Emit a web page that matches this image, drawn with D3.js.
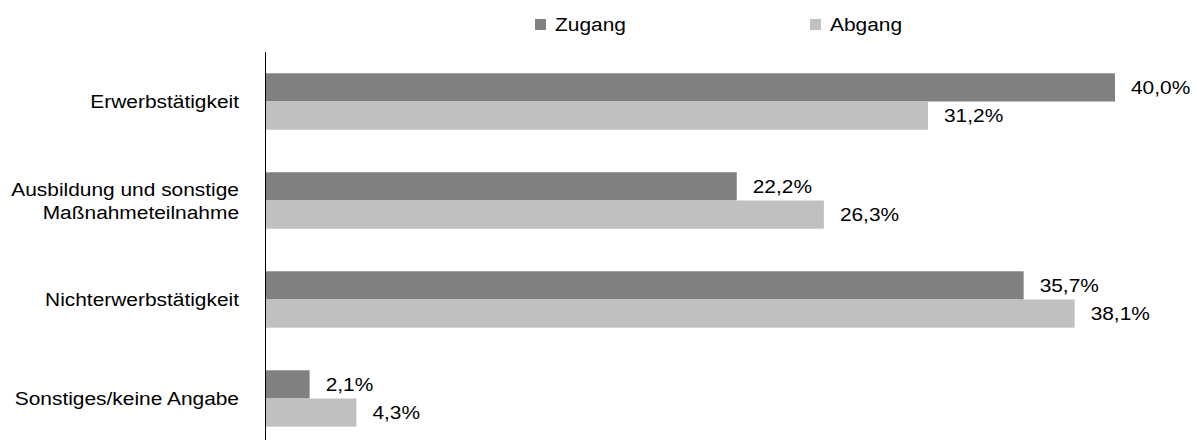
<!DOCTYPE html>
<html lang="de">
<head>
<meta charset="utf-8">
<title>Zugang und Abgang</title>
<script src="https://d3js.org/d3.v7.min.js"></script>
<style>
  body { margin: 0; background: #fff; }
  svg { display: block; }
  text { font-family: "Liberation Sans", Arial, sans-serif; font-size: 19px; fill: #000; }
</style>
</head>
<body>
<svg width="1197" height="440"></svg>
<script>
// categories and series
const categories = [
  ["Erwerbstätigkeit"],
  ["Ausbildung und sonstige", "Maßnahmeteilnahme"],
  ["Nichterwerbstätigkeit"],
  ["Sonstiges/keine Angabe"]
];
const seriesNames = ["Zugang", "Abgang"];
const zugang = [40.0, 22.2, 35.7, 2.1];
const abgang = [31.2, 26.3, 38.1, 4.3];
const colors = ["#808080", "#c0c0c0"];

const svg = d3.select("svg");
const fmt = v => d3.format(".1f")(v).replace(".", ",") + "%";
const stretch = 1.1; // the original text is a bit wider than Arial
const place = (px, py) => "translate(" + px + "," + py + ") scale(" + stretch + ",1)";

const x = d3.scaleLinear().domain([0, 40]).range([265, 1115]);
const y = d3.scaleBand().domain(d3.range(categories.length)).range([52, 448]).paddingInner(0.43).paddingOuter(0.215);
const sub = d3.scaleBand().domain(seriesNames).range([0, y.bandwidth()]);

const rows = categories.map((c, i) => ({i: i, label: c, vals: [zugang[i], abgang[i]]}));

const g = svg.selectAll("g.cat")
  .data(rows)
  .enter()
  .append("g")
  .attr("class", "cat")
  .attr("transform", d => "translate(0," + y(d.i) + ")");

g.selectAll("rect")
  .data(d => d.vals.map((v, k) => ({v: v, k: k})))
  .enter()
  .append("rect")
  .attr("x", x(0))
  .attr("y", d => sub(seriesNames[d.k]))
  .attr("width", d => x(d.v) - x(0))
  .attr("height", sub.bandwidth())
  .attr("fill", d => colors[d.k]);

g.selectAll("text.val")
  .data(d => d.vals.map((v, k) => ({v: v, k: k})))
  .enter()
  .append("text")
  .attr("class", "val")
  .attr("transform", d => place(x(d.v) + 16, sub(seriesNames[d.k]) + sub.bandwidth() / 2))
  .attr("dy", "0.35em")
  .text(d => fmt(d.v));

// category labels
g.append("text")
  .attr("text-anchor", "end")
  .attr("transform", place(239, y.bandwidth() / 2))
  .selectAll("tspan")
  .data(d => d.label)
  .enter()
  .append("tspan")
  .attr("x", 0)
  .attr("dy", (t, j, all) => j === 0 ? (0.35 - (all.length - 1) * 0.6) + "em" : "1.2em")
  .text(t => t);

// axis line
svg.append("line")
  .attr("x1", 265.5).attr("x2", 265.5)
  .attr("y1", 52).attr("y2", 440)
  .attr("stroke", "#000").attr("stroke-width", 1);

// legend
const legendX = [535, 810];
const leg = svg.selectAll("g.leg")
  .data(seriesNames)
  .enter()
  .append("g")
  .attr("class", "leg")
  .attr("transform", (d, i) => "translate(" + legendX[i] + ",19)");
leg.append("rect").attr("width", 11).attr("height", 11).attr("fill", (d, i) => colors[i]);
leg.append("text").attr("transform", place(20, 5.5)).attr("dy", "0.35em").text(d => d);
</script>
</body>
</html>
